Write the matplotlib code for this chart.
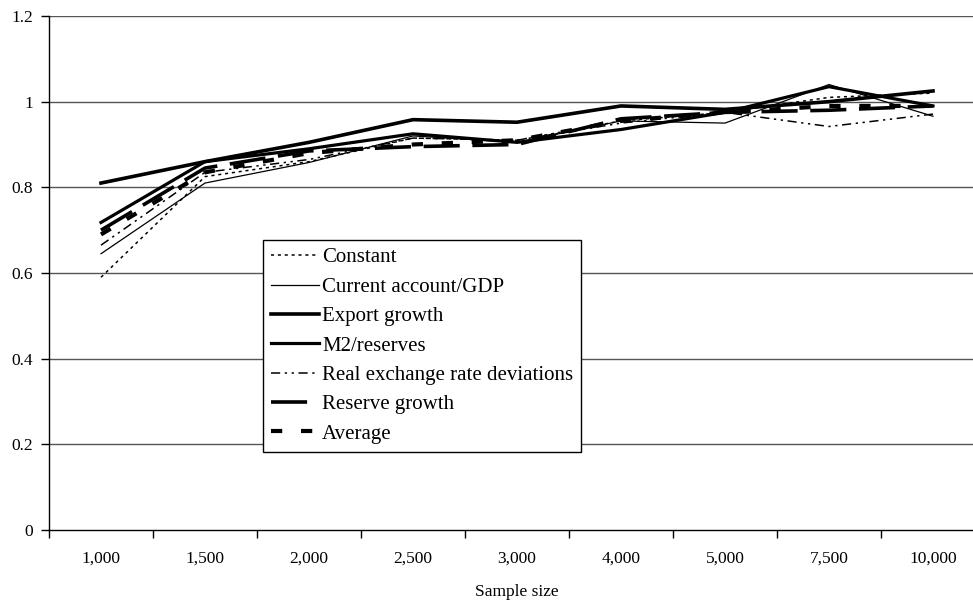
import matplotlib
matplotlib.use("Agg")
import matplotlib.pyplot as plt
import numpy as np

categories = ['1,000', '1,500', '2,000', '2,500', '3,000', '4,000', '5,000', '7,500', '10,000']
constant = [0.590, 0.825, 0.860, 0.915, 0.910, 0.955, 0.975, 1.010, 1.020]
current_account = [0.645, 0.810, 0.858, 0.920, 0.905, 0.955, 0.950, 1.040, 0.966]
export_growth = [0.810, 0.860, 0.905, 0.958, 0.952, 0.990, 0.982, 1.000, 1.025]
m2_reserves = [0.718, 0.860, 0.890, 0.925, 0.905, 0.935, 0.975, 1.035, 0.990]
rer_deviations = [0.665, 0.835, 0.865, 0.915, 0.910, 0.950, 0.975, 0.942, 0.971]
reserve_growth = [0.700, 0.845, 0.885, 0.895, 0.900, 0.960, 0.975, 0.980, 0.990]
average = [0.690, 0.835, 0.880, 0.900, 0.910, 0.955, 0.975, 0.990, 0.990]
yticks = [0, 0.2, 0.4, 0.6, 0.8, 1.0, 1.2]
ytick_labels = ['0', '0.2', '0.4', '0.6', '0.8', '1', '1.2']

plt.rcParams['font.family'] = ['Liberation Serif', 'DejaVu Serif']

fig = plt.figure(figsize=(9.73, 6.08), dpi=100)
ax = fig.add_axes([49/973, 78/608, 936/973, 514/608])

x = np.arange(len(categories))

ax.plot(x, constant, color='black', lw=1.1, dashes=(2, 2.5), label='Constant')
ax.plot(x, current_account, color='black', lw=0.9, label='Current account/GDP')
ax.plot(x, export_growth, color='black', lw=2.6, label='Export growth')
ax.plot(x, m2_reserves, color='black', lw=2.3, label='M2/reserves')
ax.plot(x, rer_deviations, color='black', lw=1.1, dashes=(6, 3, 1.5, 3, 1.5, 3), label='Real exchange rate deviations')
ax.plot(x, reserve_growth, color='black', lw=2.6, dashes=(10, 3.5), label='Reserve growth')
ax.plot(x, average, color='black', lw=3.0, dashes=(2.7, 4.5), label='Average')

ax.set_xlim(-0.5, len(categories) - 0.5)
ax.set_ylim(0, 1.2)

ax.set_xticks(x)
ax.set_xticklabels(categories, fontsize=12.5)
ax.set_xticks(np.arange(len(categories) + 1) - 0.5, minor=True)
ax.tick_params(axis='x', which='major', length=0, pad=15)
ax.tick_params(axis='x', which='minor', length=6, width=1, direction='out', color='black')

ax.set_yticks(yticks)
ax.set_yticklabels(ytick_labels, fontsize=12.5)
ax.tick_params(axis='y', length=6, width=1, direction='out', pad=5.5, color='black')

for v in yticks[1:]:
    ax.axhline(v, color='#555555', lw=1.0, zorder=0)

for s in ['top', 'right']:
    ax.spines[s].set_visible(False)
ax.spines['left'].set_linewidth(1.0)
ax.spines['bottom'].set_linewidth(1.0)

ax.set_xlabel('Sample size', fontsize=12.5, labelpad=12)

leg = ax.legend(loc='upper left', bbox_to_anchor=((263-49)/936, (530-240)/514),
                borderaxespad=0, fontsize=15, frameon=True, fancybox=False,
                handlelength=2.3, handletextpad=0.15, labelspacing=0.47,
                borderpad=0.38)
leg.get_frame().set_edgecolor('black')
leg.get_frame().set_linewidth(1.0)
leg.get_frame().set_alpha(1)

fig.savefig('out.png', dpi=100)
